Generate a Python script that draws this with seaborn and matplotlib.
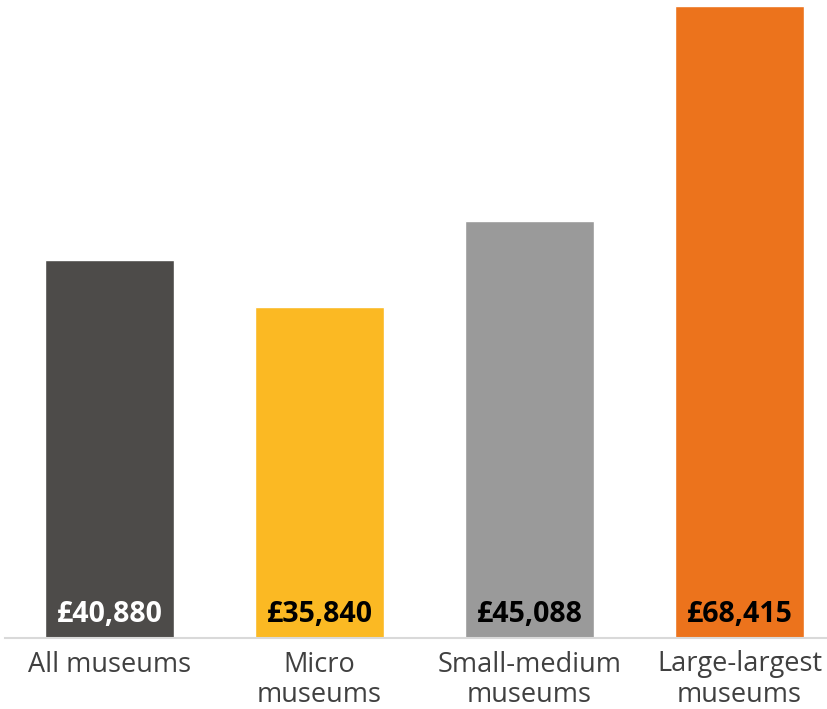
import matplotlib
matplotlib.use("Agg")
import matplotlib.pyplot as plt
import seaborn as sns
import pandas as pd

categories = ["All museums", "Micro\nmuseums", "Small-medium\nmuseums", "Large-largest\nmuseums"]
values = [40880, 35840, 45088, 68415]
colors = ["#4D4B49", "#FBB923", "#9A9A9A", "#EC731C"]
label_colors = ["white", "black", "black", "black"]

sns.set_theme(style="white")
plt.rcParams["font.family"] = ["Open Sans", "DejaVu Sans"]

df = pd.DataFrame({"category": categories, "value": values})

W, H = 828, 709
fig = plt.figure(figsize=(W / 100, H / 100), dpi=100)
ax = fig.add_axes([5 / W, (H - 638) / H, 823 / W, 638 / H])

sns.barplot(data=df, x="category", y="value", hue="category", palette=colors,
            width=129 / 210, saturation=1, legend=False, ax=ax)

ax.set_xlim(-104.5 / 210, 718.5 / 210)
ax.set_ylim(0, 68415 * 638 / 632)

# value labels sit near the foot of each bar
for i, (v, c) in enumerate(zip(values, label_colors)):
    ax.text(i, 24 * 68415 / 632, f"£{v:,}", ha="center", va="center",
            fontsize=20.5, fontweight="bold", color=c)

ax.set_xlabel("")
ax.set_ylabel("")
ax.set_yticks([])
ax.tick_params(axis="x", length=0, pad=9, labelsize=19.5, labelcolor="#404040")
for lbl in ax.get_xticklabels():
    lbl.set_linespacing(1.12)
for s in ["top", "left", "right"]:
    ax.spines[s].set_visible(False)
ax.spines["bottom"].set_color("#D9D9D9")
ax.spines["bottom"].set_linewidth(1.5)

fig.savefig("out.png", dpi=100)
